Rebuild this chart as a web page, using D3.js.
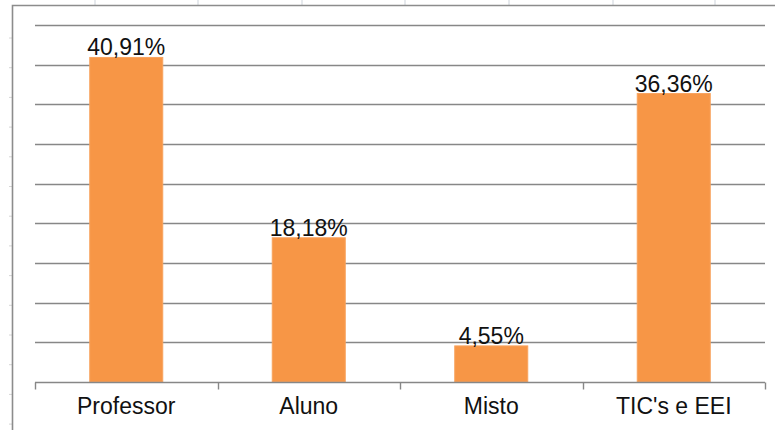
<!DOCTYPE html>
<html>
<head>
<meta charset="utf-8">
<script src="https://cdn.jsdelivr.net/npm/d3@7"></script>
<style>
  body { margin: 0; background: #fff; }
  svg { display: block; font-family: Arial, "Liberation Sans", sans-serif; }
</style>
</head>
<body>
<div class="svgContainer"></div>
<script>
// Data
var CATEGORIES = ["Professor", "Aluno", "Misto", "TIC's e EEI"];
var VALUES = [40.91, 18.18, 4.55, 36.36];
var Y_TICKS = [0, 5, 10, 15, 20, 25, 30, 35, 40, 45];
// End data

var W = 775, H = 430;
var margin = {left: 35, right: 10, top: 25, bottom: 48},
    width = 765 - margin.left,
    height = 382 - margin.top;

var svg = d3.select(".svgContainer").append("svg")
    .attr("width", W)
    .attr("height", H);

// spreadsheet cell lines peeking out behind the chart frame
svg.selectAll("line.cell")
    .data([95, 198, 302, 405, 509, 613, 715])
    .enter().append("line")
    .attr("x1", function(d) { return d; }).attr("x2", function(d) { return d; })
    .attr("y1", 0).attr("y2", 5)
    .attr("stroke", "#cdd3da").attr("stroke-width", 1);

svg.selectAll("line.row")
    .data(d3.range(38, 430, 29.7))
    .enter().append("line")
    .attr("x1", 9).attr("x2", 12)
    .attr("y1", function(d) { return d; }).attr("y2", function(d) { return d; })
    .attr("stroke", "#d6d6d6").attr("stroke-width", 1);

// chart frame (left and top edges only are visible)
svg.append("path")
    .attr("d", "M12.5,430V5.5H775")
    .attr("fill", "none")
    .attr("stroke", "#8c8c8c")
    .attr("stroke-width", 1.6);

var g = svg.append("g")
    .attr("transform", "translate(" + margin.left + "," + margin.top + ")");

var scaleX = d3.scaleBand()
    .domain(CATEGORIES)
    .range([0, width])
    .paddingInner(0.6)
    .paddingOuter(0.3);

var scaleY = d3.scaleLinear()
    .domain([0, 45])
    .range([height, 0]);

// horizontal gridlines
g.selectAll("line.grid")
    .data(Y_TICKS.slice(1))
    .enter().append("line")
    .attr("x1", 0).attr("x2", width)
    .attr("y1", function(d) { return Math.round(scaleY(d)) + 0.5; })
    .attr("y2", function(d) { return Math.round(scaleY(d)) + 0.5; })
    .attr("stroke", "#878787")
    .attr("stroke-width", 1.4);

// bars
g.selectAll("rect.bar")
    .data(VALUES)
    .enter().append("rect")
    .attr("x", function(d, i) { return scaleX(CATEGORIES[i]); })
    .attr("y", function(d) { return scaleY(d); })
    .attr("width", scaleX.bandwidth())
    .attr("height", function(d) { return height - scaleY(d); })
    .attr("fill", "#F79646")
    .attr("stroke", "#F8A35E")
    .attr("stroke-width", 1);

// x axis with ticks between categories
var boundary = d3.scaleLinear().domain([0, CATEGORIES.length]).range([0, width]);
var xAxis = g.append("g").attr("transform", "translate(0," + (height + 0.5) + ")");
xAxis.append("line")
    .attr("x1", 0).attr("x2", width)
    .attr("stroke", "#878787").attr("stroke-width", 1.4);
xAxis.selectAll("line.tick")
    .data(d3.range(CATEGORIES.length + 1))
    .enter().append("line")
    .attr("x1", function(d) { return Math.round(boundary(d)) + 0.5; })
    .attr("x2", function(d) { return Math.round(boundary(d)) + 0.5; })
    .attr("y1", 0).attr("y2", 7)
    .attr("stroke", "#878787").attr("stroke-width", 1.4);

xAxis.selectAll("text")
    .data(CATEGORIES)
    .enter().append("text")
    .attr("x", function(d) { return scaleX(d) + scaleX.bandwidth() / 2; })
    .attr("y", 31)
    .attr("text-anchor", "middle")
    .attr("font-size", "23px")
    .attr("fill", "#111")
    .text(function(d) { return d; });

// value labels
g.selectAll("text.val")
    .data(VALUES)
    .enter().append("text")
    .attr("x", function(d, i) { return scaleX(CATEGORIES[i]) + scaleX.bandwidth() / 2; })
    .attr("y", function(d) { return scaleY(d) - 2; })
    .attr("text-anchor", "middle")
    .attr("font-size", "23px")
    .attr("fill", "#111")
    .text(function(d) { return d.toFixed(2).replace(".", ",") + "%"; });
</script>
</body>
</html>
